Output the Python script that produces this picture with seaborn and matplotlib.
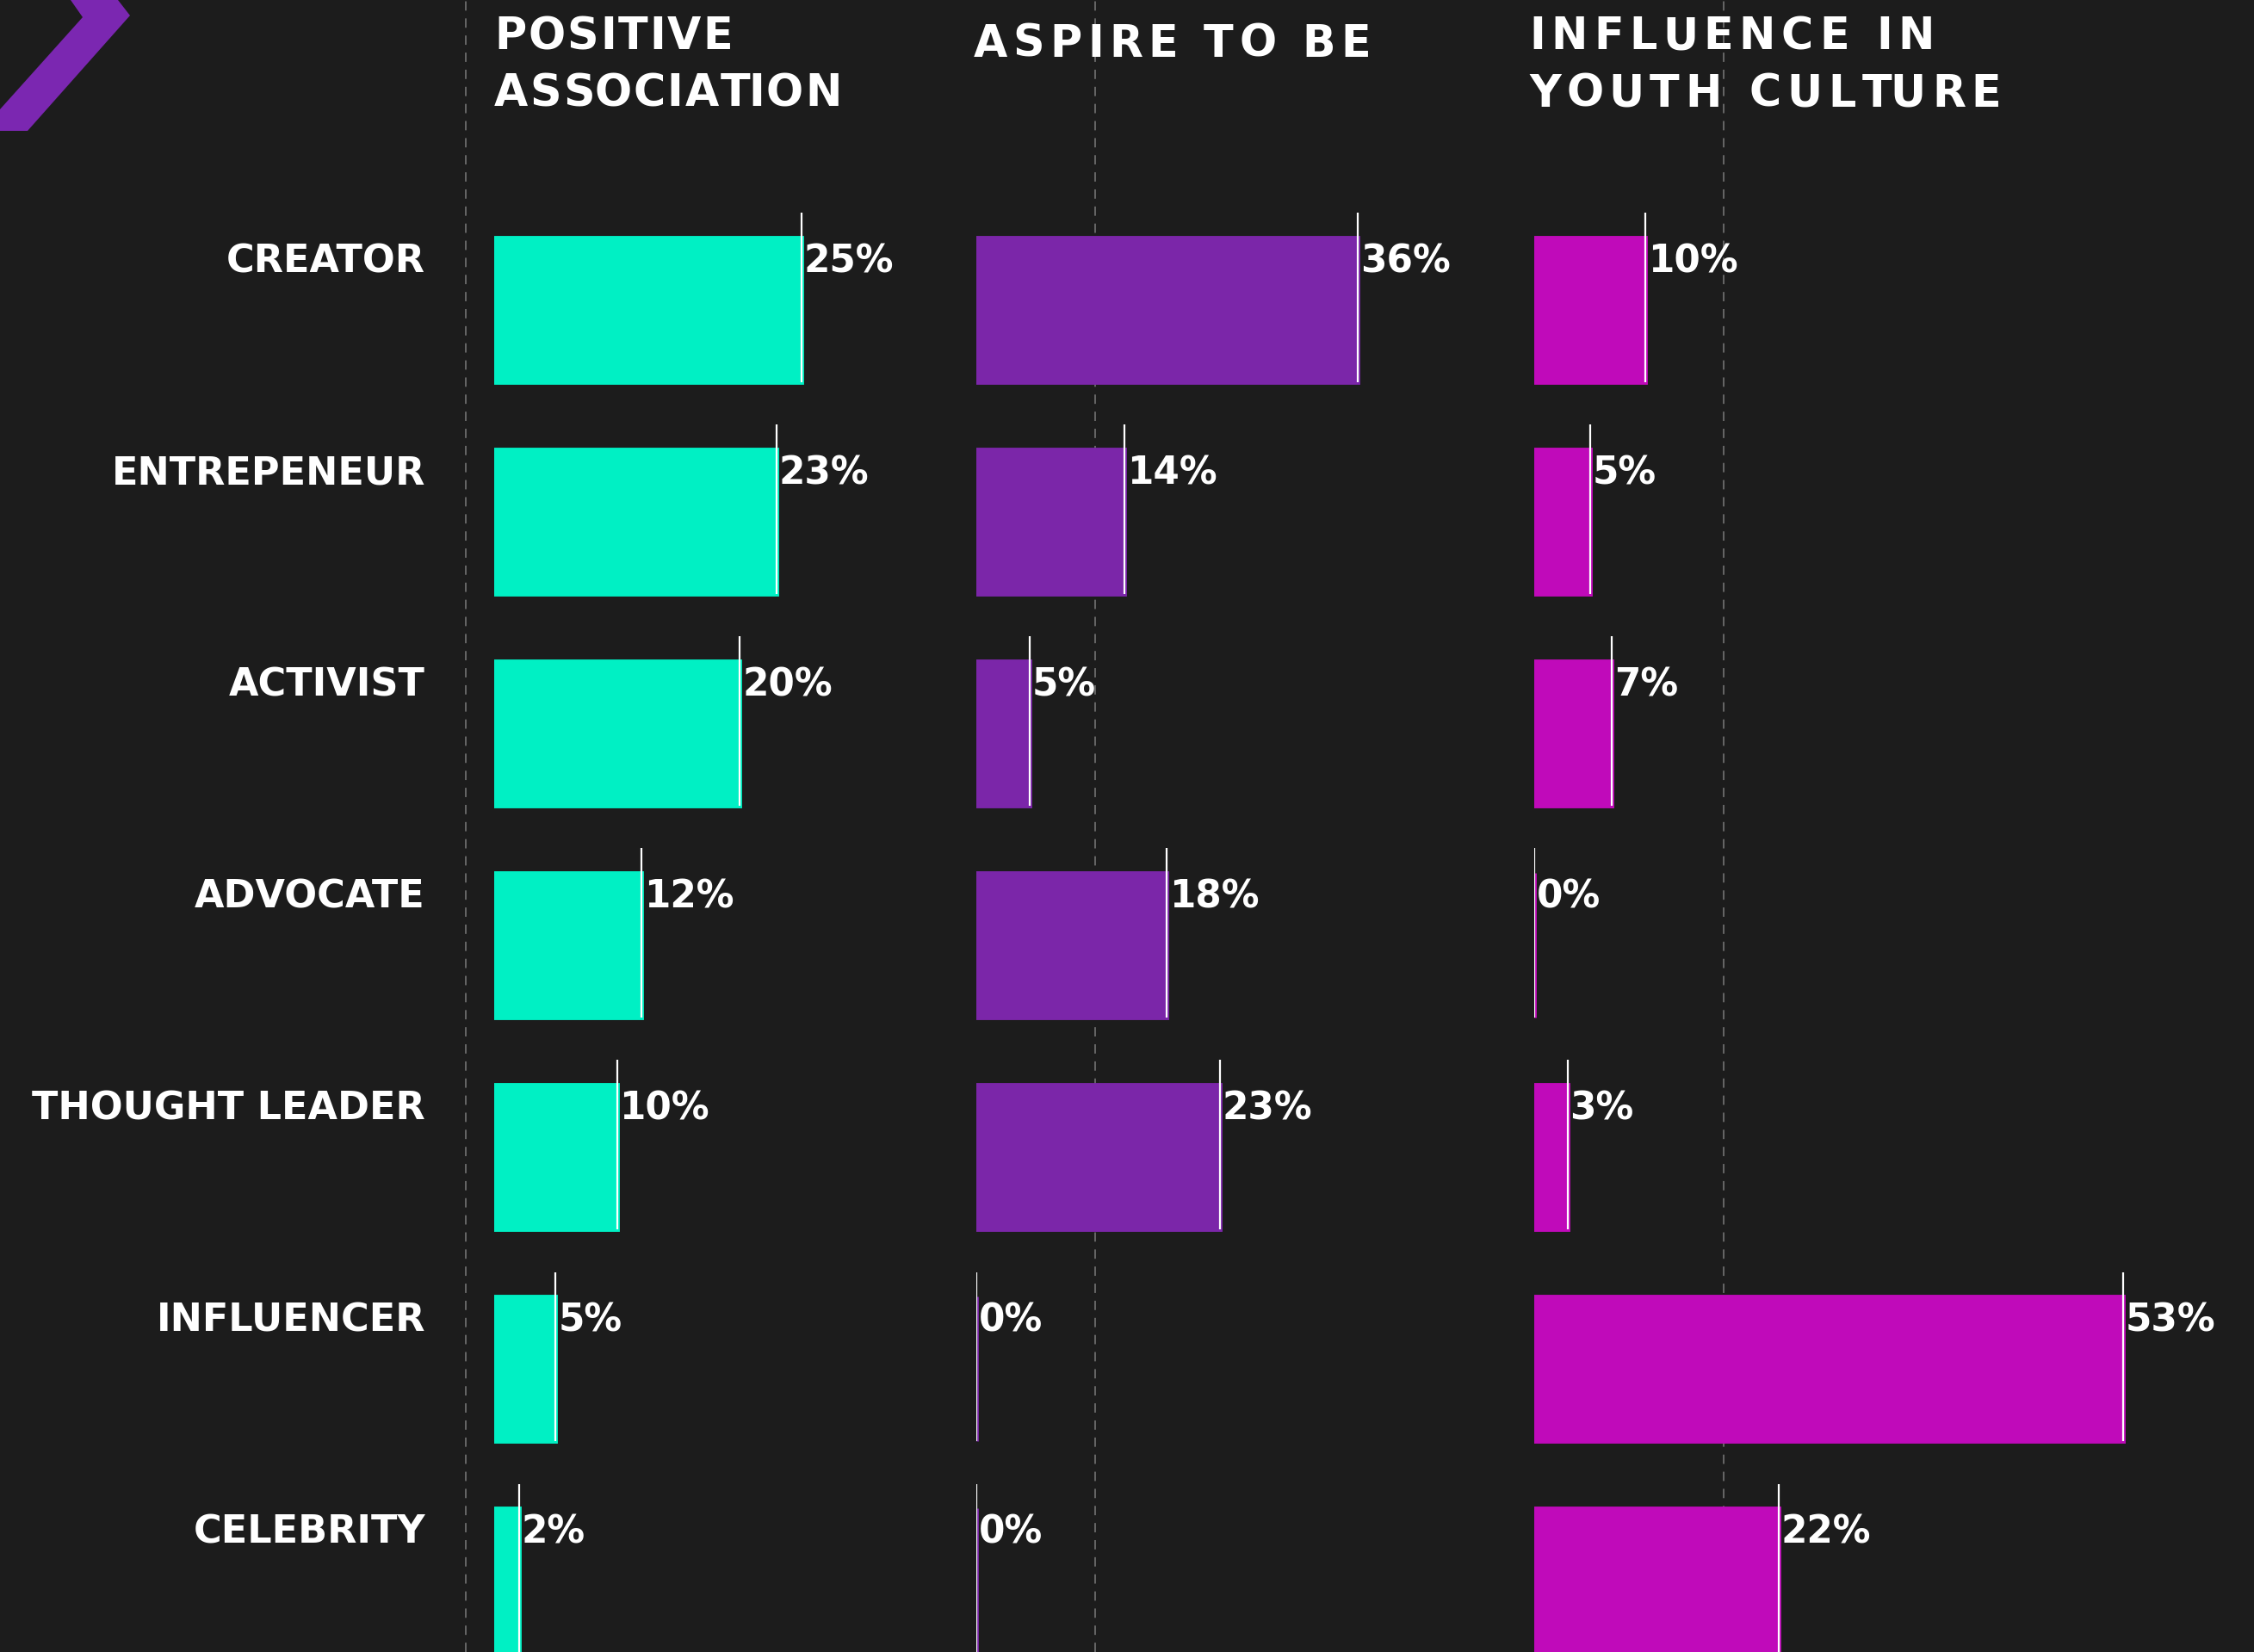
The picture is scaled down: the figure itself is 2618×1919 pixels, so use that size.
import matplotlib
matplotlib.use("Agg")
import matplotlib.pyplot as plt
import matplotlib.transforms as mtransforms
from matplotlib.patches import Polygon
from matplotlib.lines import Line2D
import pandas as pd
import seaborn as sns

# ---- data ----
roles = ["CREATOR", "ENTREPENEUR", "ACTIVIST", "ADVOCATE",
         "THOUGHT LEADER", "INFLUENCER", "CELEBRITY"]
positive_association = [25, 23, 20, 12, 10, 5, 2]
aspire_to_be = [36, 14, 5, 18, 23, 0, 0]
influence_youth = [10, 5, 7, 0, 3, 53, 22]
header_lines = [["POSITIVE", "ASSOCIATION"], ["ASPIRE TO BE"],
                ["INFLUENCE IN", "YOUTH CULTURE"]]

# ---- style ----
BG = "#1c1c1c"
COLORS = ["#00F0C4", "#7B26A9", "#C00ABA"]
W, H = 2618, 1919
DPI = 100

sns.set_theme(style="dark")
plt.rcParams["font.family"] = ["DejaVu Sans"]

fig = plt.figure(figsize=(W / DPI, H / DPI), dpi=DPI, facecolor=BG)
renderer = fig.canvas.get_renderer()

df = pd.DataFrame({"role": roles,
                   "positive": positive_association,
                   "aspire": aspire_to_be,
                   "influence": influence_youth})
cols = ["positive", "aspire", "influence"]

# panel geometry (pixels): bar start, px per percent, xlim max
panels = [(574, 14.27, 30), (1134, 12.3, 40), (1782, 12.9, 60)]

bar_h = 0.685
ylim = (6.337, -1.463)
label_dy = -0.228

# dashed decorative verticals
for xpx in [541, 1272, 2002]:
    fig.add_artist(Line2D([xpx / W, xpx / W], [0, 1], transform=fig.transFigure,
                          color="#6c6c6c", lw=1.3, ls=(0, (6, 5)), zorder=0))

axes = []
for k, (col, (x0, ppp, xmax)) in enumerate(zip(cols, panels)):
    ax = fig.add_axes([x0 / W, 0, xmax * ppp / W, 1])
    ax.set_facecolor("none")
    sns.barplot(data=df, y="role", x=col, orient="h", color=COLORS[k],
                saturation=1, width=bar_h, edgecolor=COLORS[k], linewidth=3.5,
                ax=ax)
    ax.set_xlim(0, xmax)
    ax.set_ylim(*ylim)
    vals = df[col].tolist()
    for i, v in enumerate(vals):
        ax.vlines(v, i - bar_h / 2 - 0.115, i + bar_h / 2, color="white",
                  lw=1.6, zorder=5)
        ax.annotate(f"{v}%", xy=(v, i + label_dy), xytext=(2, 0),
                    textcoords="offset points", ha="left", va="center",
                    color="white", fontsize=31.5, fontweight="bold",
                    annotation_clip=False)
    ax.set_xlabel("")
    ax.set_ylabel("")
    ax.set_xticks([])
    ax.set_yticks([])
    for s in ax.spines.values():
        s.set_visible(False)
    ax.grid(False)
    axes.append(ax)

# row labels
trans = mtransforms.blended_transform_factory(fig.transFigure, axes[0].transData)
for i, r in enumerate(roles):
    axes[0].text(494 / W, i + label_dy, r, transform=trans, ha="right",
                 va="center", color="white", fontsize=32, fontweight="bold",
                 clip_on=False)


def text_width(s, size):
    t = fig.text(0, 0, s + "|", fontsize=size, fontweight="bold")
    w1 = t.get_window_extent(renderer).width
    t.remove()
    t = fig.text(0, 0, "|", fontsize=size, fontweight="bold")
    w2 = t.get_window_extent(renderer).width
    t.remove()
    return w1 - w2


def tracked_text(xpx, ypx_baseline, s, size, tracking):
    for i, ch in enumerate(s):
        if ch == " ":
            continue
        off = text_width(s[:i], size) if i > 0 else 0.0
        fig.text((xpx + off + i * tracking) / W, 1 - ypx_baseline / H, ch,
                 ha="left", va="baseline", color="white", fontsize=size,
                 fontweight="bold")


HS = 36.5
# headers: (x, [baselines], tracking px)
header_specs = [(574, [57, 123], 2.0), (1131, [66], 6.3), (1776, [57, 124], 6.9)]
for lines, (hx, bases, trk) in zip(header_lines, header_specs):
    for line, b in zip(lines, bases):
        tracked_text(hx, b, line, HS, trk)

# chevron
pts = [(82, 0), (137, 0), (151, 18), (32, 152), (0, 152), (0, 127), (96, 20)]
fig.add_artist(Polygon([(x / W, 1 - y / H) for x, y in pts], closed=True,
                       transform=fig.transFigure, facecolor="#7B27B1",
                       edgecolor="none"))

fig.savefig("out.png", dpi=DPI, facecolor=BG)
